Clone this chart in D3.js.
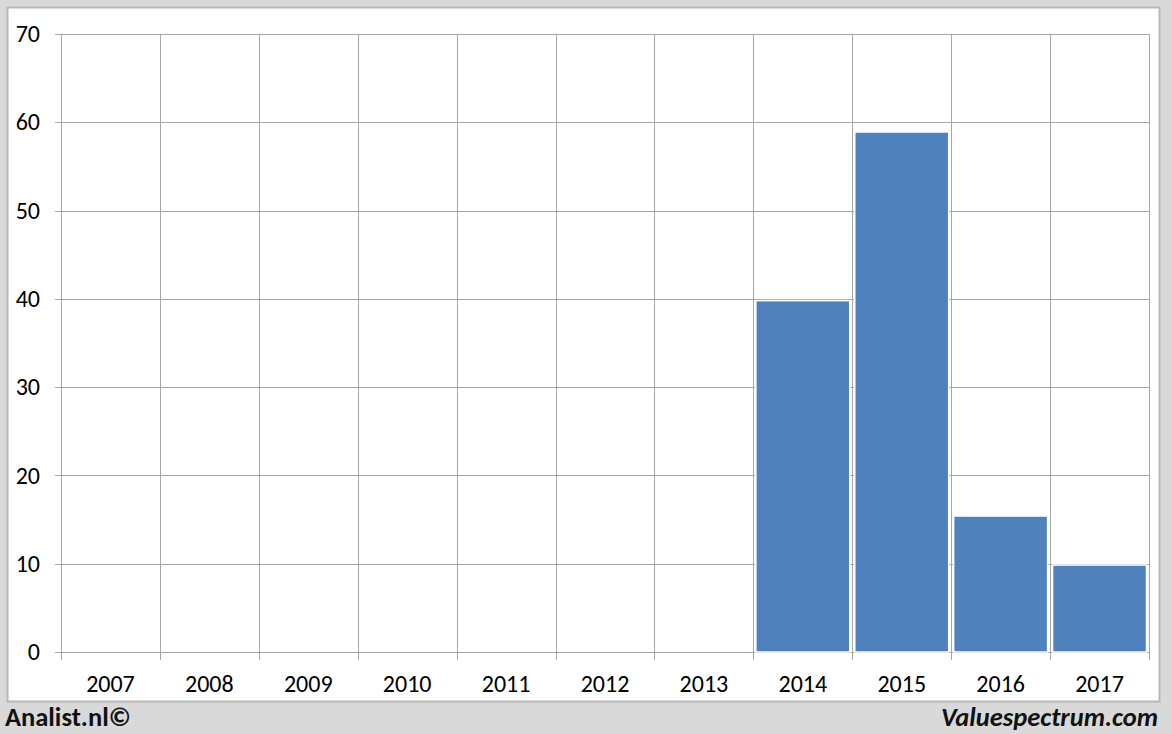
<!DOCTYPE html>
<html><head><meta charset="utf-8">
<script src="https://cdn.jsdelivr.net/npm/d3@7"></script>
<style>html,body{margin:0;padding:0;background:#d9d9d9;}svg{display:block;font-family:Calibri,Carlito,"Open Sans",sans-serif;}</style>
</head><body>
<svg id="c" width="1172" height="734"></svg>
<script>
const categories = ["2007","2008","2009","2010","2011","2012","2013","2014","2015","2016","2017"];
const values = [null,null,null,null,null,null,null,39.8,58.9,15.4,9.85];
const yTicks = [0,10,20,30,40,50,60,70];

const svg = d3.select("#c");
svg.append("rect").attr("x",0).attr("y",0).attr("width",1172).attr("height",734).attr("fill","#d9d9d9");
svg.append("rect").attr("x",7.5).attr("y",7.5).attr("width",1152).attr("height",694).attr("fill","#fff").attr("stroke","#b8b8b8").attr("stroke-width",2);

const L=61,R=1149,T=34,B=652;
const x = d3.scaleBand().domain(categories).range([L,R]).padding(0);
const y = d3.scaleLinear().domain([0,70]).range([B,T]);
const g = svg.append("g");
const gridC="#a6a6a6";
g.selectAll("line.h").data(yTicks).join("line")
 .attr("x1",L-6).attr("x2",R).attr("y1",d=>Math.round(y(d))+0.5).attr("y2",d=>Math.round(y(d))+0.5)
 .attr("stroke",gridC).attr("stroke-width",1);
const bounds = categories.map(c=>x(c)).concat([R]);
g.selectAll("line.v").data(bounds).join("line")
 .attr("x1",d=>Math.round(d)+0.5).attr("x2",d=>Math.round(d)+0.5).attr("y1",T).attr("y2",B+8)
 .attr("stroke",gridC).attr("stroke-width",1);
g.selectAll("rect.bar").data(categories.map((c,i)=>({c,v:values[i]})).filter(d=>d.v!=null)).join("rect")
 .attr("x",d=>x(d.c)+2.5).attr("width",x.bandwidth()-5)
 .attr("y",d=>y(d.v)).attr("height",d=>B-y(d.v))
 .attr("fill","#4f81bd").attr("stroke","#fff").attr("stroke-width",1.5);
g.selectAll("text.y").data(yTicks).join("text")
 .attr("x",40).attr("y",d=>y(d)).attr("dy","0.34em").attr("text-anchor","end")
 .attr("font-size",24).attr("fill","#000").text(d=>d);
g.selectAll("text.x").data(categories).join("text")
 .attr("x",d=>x(d)+x.bandwidth()/2).attr("y",684).attr("dy","0.34em").attr("text-anchor","middle")
 .attr("font-size",24).attr("fill","#000").text(d=>d);
svg.append("text").attr("x",5).attr("y",726).attr("font-size",26.5).attr("font-weight","bold").attr("fill","#111").text("Analist.nl©");
svg.append("text").attr("x",1158).attr("y",726).attr("text-anchor","end").attr("font-size",26.5).attr("font-weight","bold").attr("font-style","italic").attr("fill","#111").text("Valuespectrum.com");
</script>
</body></html>
